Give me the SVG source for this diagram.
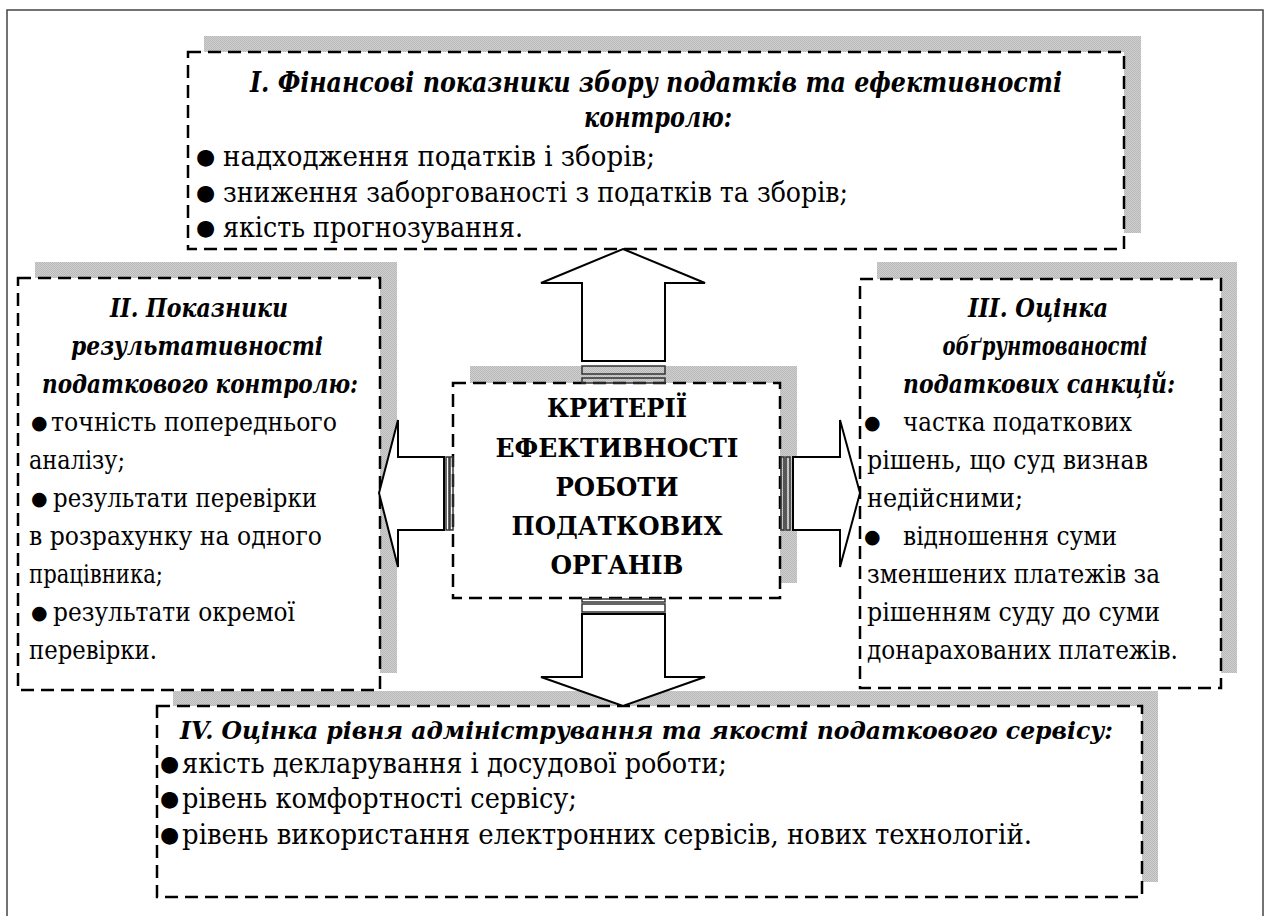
<svg xmlns="http://www.w3.org/2000/svg" width="1268" height="916" viewBox="0 0 1268 916">
<defs>
<pattern id="dots" width="2" height="2" patternUnits="userSpaceOnUse">
<rect width="2" height="2" fill="#cfcfcf"/>
<rect width="1" height="1" fill="#b9b9b9"/>
<rect x="1" y="1" width="1" height="1" fill="#b9b9b9"/>
</pattern>
</defs>
<style>
.t{font-family:'DejaVu Serif',serif;font-size:25.5px;fill:#000}
.L{font-size:28px}
.M{font-size:24.5px}
.h{font-weight:bold;font-style:italic;text-anchor:middle}
.c{font-weight:bold;text-anchor:middle}
.b{font-family:'DejaVu Sans',sans-serif;font-size:19px;fill:#000}
.bL{font-size:22px}
.box{fill:#fff;stroke:#000;stroke-width:2.5;stroke-dasharray:13 7}
.sh{fill:url(#dots)}
.arr{fill:#fff;stroke:#000;stroke-width:2;stroke-linejoin:miter}
.bar{fill:none;stroke:#333;stroke-width:1.5}
</style>
<rect x="0" y="0" width="1268" height="916" fill="#fff"/>
<rect x="7" y="10" width="1256" height="920" fill="none" stroke="#444" stroke-width="1.5"/>
<g id="shadows">
<rect class="sh" x="204" y="36" width="937" height="197"/>
<rect class="sh" x="35" y="262" width="362" height="411"/>
<rect class="sh" x="877" y="262" width="360" height="411"/>
<rect class="sh" x="470" y="366" width="327" height="217"/>
<rect class="sh" x="173" y="691" width="985" height="191"/>
</g>
<g id="node-top">
<rect class="box" x="188" y="52" width="936" height="197"/>
<text class="t L h" x="656" y="92" textLength="812" lengthAdjust="spacingAndGlyphs">I. Фінансові показники збору податків та ефективності</text>
<text class="t L h" x="658" y="127" textLength="148" lengthAdjust="spacingAndGlyphs">контролю:</text>
<text class="b bL" x="196" y="164">●</text>
<text class="t L" x="223" y="166" textLength="432" lengthAdjust="spacingAndGlyphs">надходження податків і зборів;</text>
<text class="b bL" x="196" y="200">●</text>
<text class="t L" x="223" y="202" textLength="625" lengthAdjust="spacingAndGlyphs">зниження заборгованості з податків та зборів;</text>
<text class="b bL" x="196" y="235">●</text>
<text class="t L" x="223" y="237" textLength="300" lengthAdjust="spacingAndGlyphs">якість прогнозування.</text>
</g>
<g id="node-left">
<rect class="box" x="18" y="278" width="362" height="412"/>
<text class="t h" x="199" y="317" textLength="178" lengthAdjust="spacingAndGlyphs">II. Показники</text>
<text class="t h" x="197" y="355" textLength="252" lengthAdjust="spacingAndGlyphs">результативності</text>
<text class="t h" x="200" y="393" textLength="316" lengthAdjust="spacingAndGlyphs">податкового контролю:</text>
<text class="b" x="31" y="429">●</text>
<text class="t" x="51" y="431" textLength="286" lengthAdjust="spacingAndGlyphs">точність попереднього</text>
<text class="t" x="29" y="469" textLength="96" lengthAdjust="spacingAndGlyphs">аналізу;</text>
<text class="b" x="31" y="505">●</text>
<text class="t" x="53" y="507" textLength="264" lengthAdjust="spacingAndGlyphs">результати перевірки</text>
<text class="t" x="29" y="545" textLength="293" lengthAdjust="spacingAndGlyphs">в розрахунку на одного</text>
<text class="t" x="29" y="583" textLength="134" lengthAdjust="spacingAndGlyphs">працівника;</text>
<text class="b" x="31" y="619">●</text>
<text class="t" x="53" y="621" textLength="242" lengthAdjust="spacingAndGlyphs">результати окремої</text>
<text class="t" x="29" y="659" textLength="128" lengthAdjust="spacingAndGlyphs">перевірки.</text>
</g>
<g id="node-right">
<rect class="box" x="860" y="279" width="361" height="409"/>
<text class="t h" x="1038" y="317" textLength="140" lengthAdjust="spacingAndGlyphs">III. Оцінка</text>
<text class="t h" x="1045" y="355" textLength="205" lengthAdjust="spacingAndGlyphs">обґрунтованості</text>
<text class="t h" x="1039" y="393" textLength="272" lengthAdjust="spacingAndGlyphs">податкових санкцій:</text>
<text class="b" x="864" y="429">●</text>
<text class="t" x="903" y="431" textLength="229" lengthAdjust="spacingAndGlyphs">частка податкових</text>
<text class="t" x="867" y="469" textLength="281" lengthAdjust="spacingAndGlyphs">рішень, що суд визнав</text>
<text class="t" x="867" y="507" textLength="156" lengthAdjust="spacingAndGlyphs">недійсними;</text>
<text class="b" x="864" y="543">●</text>
<text class="t" x="903" y="545" textLength="214" lengthAdjust="spacingAndGlyphs">відношення суми</text>
<text class="t" x="867" y="583" textLength="293" lengthAdjust="spacingAndGlyphs">зменшених платежів за</text>
<text class="t" x="867" y="621" textLength="293" lengthAdjust="spacingAndGlyphs">рішенням суду до суми</text>
<text class="t" x="867" y="659" textLength="311" lengthAdjust="spacingAndGlyphs">донарахованих платежів.</text>
</g>
<g id="node-center">
<rect class="box" x="453" y="383" width="327" height="215"/>
<text class="t c" x="617" y="417" textLength="140" lengthAdjust="spacingAndGlyphs">КРИТЕРІЇ</text>
<text class="t c" x="617" y="456.5" textLength="243" lengthAdjust="spacingAndGlyphs">ЕФЕКТИВНОСТІ</text>
<text class="t c" x="617" y="495.5" textLength="123" lengthAdjust="spacingAndGlyphs">РОБОТИ</text>
<text class="t c" x="617" y="534.5" textLength="211" lengthAdjust="spacingAndGlyphs">ПОДАТКОВИХ</text>
<text class="t c" x="617" y="573.5" textLength="133" lengthAdjust="spacingAndGlyphs">ОРГАНІВ</text>
</g>
<g id="node-bottom">
<rect class="box" x="157" y="706" width="985" height="191"/>
<text class="t M h" x="646.5" y="739" textLength="933" lengthAdjust="spacingAndGlyphs">IV. Оцінка рівня адміністрування та якості податкового сервісу:</text>
<text class="b bL" x="160" y="771">●</text>
<text class="t L" x="182" y="773" textLength="545" lengthAdjust="spacingAndGlyphs">якість декларування і досудової роботи;</text>
<text class="b bL" x="160" y="806">●</text>
<text class="t L" x="182" y="808" textLength="395" lengthAdjust="spacingAndGlyphs">рівень комфортності сервісу;</text>
<text class="b bL" x="160" y="842">●</text>
<text class="t L" x="182" y="844" textLength="850" lengthAdjust="spacingAndGlyphs">рівень використання електронних сервісів, нових технологій.</text>
</g>
<g id="connectors">
<polygon class="arr" points="623,249 705,283 665,283 665,361 582,361 582,283 541,283"/>
<rect class="bar" x="582" y="366" width="83" height="8"/>
<rect class="bar" x="582" y="378" width="83" height="5"/>
<rect class="bar" x="582" y="599" width="83" height="3"/>
<rect class="bar" x="582" y="604" width="83" height="8"/>
<polygon class="arr" points="582,614 665,614 665,677 705,677 623,706 541,677 582,677"/>
<polygon class="arr" points="379,493 398,420 398,457 444,457 444,530 398,530 398,567"/>
<rect class="bar" x="446" y="457" width="3" height="73"/>
<rect class="bar" x="450" y="457" width="3" height="73"/>
<rect class="bar" x="781" y="457" width="3" height="73"/>
<rect class="bar" x="786" y="457" width="4" height="73"/>
<polygon class="arr" points="793,457 840,457 840,420 860,493 840,567 840,530 793,530"/>
</g>
</svg>
